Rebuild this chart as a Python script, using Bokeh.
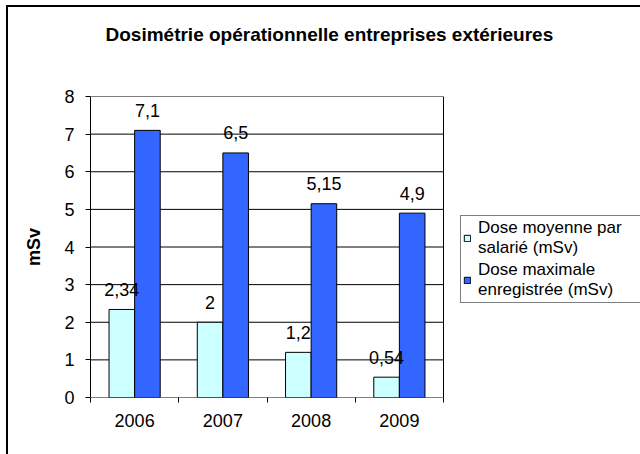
from bokeh.plotting import figure
from bokeh.models import (ColumnDataSource, Range1d, FixedTicker, LabelSet,
                          Legend, LegendItem, Title)
from bokeh.core.properties import value
from bokeh.embed import file_html
from bokeh.resources import INLINE
import numpy as np

# ---- data ----
years = ["2006", "2007", "2008", "2009"]
dose_moyenne = [2.34, 2.0, 1.2, 0.54]
dose_maximale = [7.1, 6.5, 5.15, 4.9]
y_ticks = [0, 1, 2, 3, 4, 5, 6, 7, 8]
series_names = ["Dose moyenne par\nsalarié (mSv)", "Dose maximale\nenregistrée (mSv)"]
title_text = "Dosimétrie opérationnelle entreprises extérieures"
y_label = "mSv"

FONT = "Liberation Sans"
LIGHT = "#CCFFFF"
DARK = "#3366FF"

def fmt(v):
    return f"{v:g}".replace(".", ",")

n = len(years)
centers = np.arange(n) + 0.5
off = 0.145
bw = 0.29

# layout (pixels)
W, H = 640, 454
LEFT, TOP, BOTTOM = 90, 96, 57
PLOT_W = 353                      # width of the visible plot area
x_end = n * (W - LEFT) / PLOT_W   # frame extends to the right edge (legend area)

src1 = ColumnDataSource(dict(x=centers - off, top=dose_moyenne,
                             lab=[fmt(v) for v in dose_moyenne]))
src2 = ColumnDataSource(dict(x=centers + off, top=dose_maximale,
                             lab=[fmt(v) for v in dose_maximale]))

p = figure(width=W, height=H, output_backend="svg", toolbar_location=None,
           x_range=Range1d(0, x_end), y_range=Range1d(y_ticks[0], y_ticks[-1]),
           min_border_left=LEFT, min_border_right=0, min_border_top=TOP,
           min_border_bottom=BOTTOM)
# outer chart border (left and top edges visible, as in the original)
p.styles = {"background": "linear-gradient(#000,#000) 6px 5px / 2px 100% no-repeat, "
                          "linear-gradient(#000,#000) 6px 5px / 100% 2px no-repeat, #fff"}

p.background_fill_color = "white"
p.border_fill_color = None
p.outline_line_color = None

# plot-area grid lines and right edge
p.segment(x0=0, x1=n, y0=y_ticks, y1=y_ticks, line_color="black", line_width=1)
p.segment(x0=[n], x1=[n], y0=[y_ticks[0]], y1=[y_ticks[-1]], line_color="black", line_width=1)

r1 = p.vbar(x="x", top="top", width=bw, bottom=0, source=src1,
            fill_color=LIGHT, line_color="black", line_width=1)
r2 = p.vbar(x="x", top="top", width=bw, bottom=0, source=src2,
            fill_color=DARK, line_color="black", line_width=1)

for s in (src1, src2):
    ls = LabelSet(x="x", y="top", text="lab", source=s, y_offset=20,
                  text_align="center", text_baseline="middle",
                  text_font=value(FONT), text_font_size=value("18px"),
                  text_color="black")
    p.add_layout(ls)

# title (outer), with a blank spacer title between it and the plot area
p.title.text = title_text
p.title.text_font = FONT
p.title.text_font_size = "19px"
p.title.text_font_style = "bold"
p.title.text_color = "black"
p.title.align = "left"
p.title.offset = 15
p.title.standoff = 38
spacer = Title(text=" ", text_font=FONT, text_font_size="19px", standoff=10)
p.add_layout(spacer, "above")

# x axis
xa = p.xaxis[0]
xa.ticker = FixedTicker(ticks=list(centers), minor_ticks=list(np.arange(n + 1)))
xa.major_label_overrides = {float(c): y for c, y in zip(centers, years)}
xa.major_tick_out = 0
xa.major_tick_in = 0
xa.minor_tick_out = 5
xa.minor_tick_in = 0
xa.minor_tick_line_color = "black"
xa.axis_line_color = None
xa.major_label_text_font = FONT
xa.major_label_text_font_size = "18px"
xa.major_label_text_color = "black"
xa.major_label_standoff = 11

# y axis
ya = p.yaxis[0]
ya.ticker = FixedTicker(ticks=y_ticks, minor_ticks=[])
ya.major_tick_out = 5
ya.major_tick_in = 0
ya.major_tick_line_color = "black"
ya.axis_line_color = "black"
ya.major_label_text_font = FONT
ya.major_label_text_font_size = "18px"
ya.major_label_text_color = "black"
ya.major_label_standoff = 11
ya.axis_label = y_label
ya.axis_label_text_font = FONT
ya.axis_label_text_font_size = "18px"
ya.axis_label_text_font_style = "bold"
ya.axis_label_text_color = "black"
ya.axis_label_standoff = 17

p.xgrid.grid_line_color = None
p.ygrid.grid_line_color = None

legend = Legend(items=[LegendItem(label=series_names[0], renderers=[r1]),
                       LegendItem(label=series_names[1], renderers=[r2])],
                location=(370, 94), margin=0, padding=2, spacing=2,
                glyph_width=8, glyph_height=8, label_standoff=7,
                label_text_font=FONT, label_text_font_size="17px",
                label_text_color="black", label_width=175,
                border_line_color="black", border_line_width=1,
                background_fill_color="white", background_fill_alpha=1)
p.add_layout(legend)

open("out.html", "w").write(file_html(p, INLINE))
